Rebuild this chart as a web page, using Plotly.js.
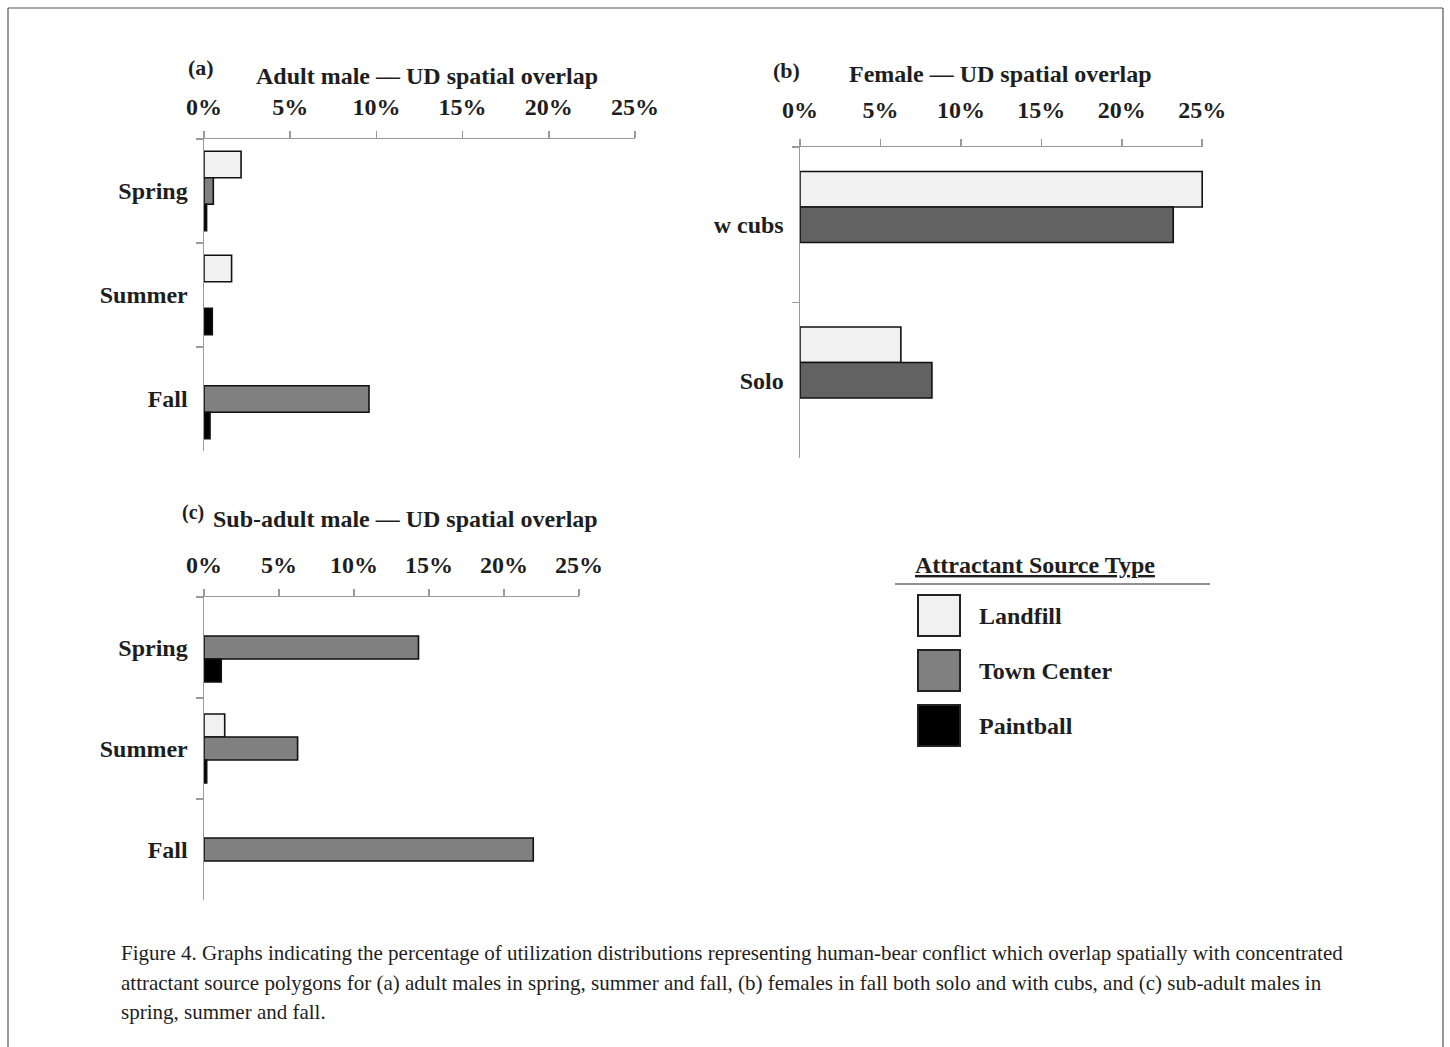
<!DOCTYPE html>
<html>
<head>
<meta charset="utf-8">
<script src="https://cdn.plot.ly/plotly-3.0.1.min.js"></script>
<style>
  html, body { margin: 0; padding: 0; background: #fff; }
  #chart { width: 1450px; height: 1047px; }
</style>
</head>
<body>
<div id="chart"></div>
<script>
// ---------- DATA ----------
const seriesNames = ['Landfill', 'Town Center', 'Paintball'];

// (a) Adult male
const adultCategories = ['Spring', 'Summer', 'Fall'];
const adultLandfill   = [2.15, 1.6, null];
const adultTown       = [0.54, null, 9.57];
const adultPaintball  = [0.15, 0.48, 0.35];

// (b) Female
const femaleCategories = ['w cubs', 'Solo'];
const femaleLandfill   = [25.0, 6.27];
const femaleTown       = [23.2, 8.2];
const femalePaintball  = [null, null];

// (c) Sub-adult male
const subCategories = ['Spring', 'Summer', 'Fall'];
const subLandfill   = [null, 1.38, null];
const subTown       = [14.3, 6.24, 21.95];
const subPaintball  = [1.15, 0.18, null];

const tickValues = [0, 5, 10, 15, 20, 25];
const tickLabels = ['0%', '5%', '10%', '15%', '20%', '25%'];

const captionLines = [
  'Figure 4. Graphs indicating the percentage of utilization distributions representing human-bear conflict which overlap spatially with concentrated',
  'attractant source polygons for (a) adult males in spring, summer and fall, (b) females in fall both solo and with cubs, and (c) sub-adult males in',
  'spring, summer and fall.'
];

// ---------- STYLE ----------
const W = 1450, H = 1047;
const px = v => v / W;
const py = v => 1 - v / H;
const FONT = 'Liberation Serif, Times New Roman, serif';
const TXT = '#1e1e1e';
const AX = '#9a9a9a';
const cLand = '#f1f1f1', cTown = '#808080', cTownDark = '#626262', cPaint = '#000000';

function bars(cats, vals, name, color, xa, ya, width, offset) {
  return {
    type: 'bar', orientation: 'h', name: name,
    y: cats, x: vals, xaxis: xa, yaxis: ya,
    width: width, offset: offset,
    marker: { color: color, line: { color: '#111', width: 1.6 } },
    showlegend: false, hoverinfo: 'x+y+name'
  };
}

const wA = 0.255, oA = [-0.3825, -0.1275, 0.1275];
const wB = 0.228, oB = [-0.342, -0.114, 0.114];

const data = [
  bars(adultCategories, adultLandfill, seriesNames[0], cLand, 'x', 'y', wA, oA[0]),
  bars(adultCategories, adultTown, seriesNames[1], cTown, 'x', 'y', wA, oA[1]),
  bars(adultCategories, adultPaintball, seriesNames[2], cPaint, 'x', 'y', wA, oA[2]),
  bars(femaleCategories, femaleLandfill, seriesNames[0], cLand, 'x2', 'y2', wB, oB[0]),
  bars(femaleCategories, femaleTown, seriesNames[1], cTownDark, 'x2', 'y2', wB, oB[1]),
  bars(femaleCategories, femalePaintball, seriesNames[2], cPaint, 'x2', 'y2', wB, oB[2]),
  bars(subCategories, subLandfill, seriesNames[0], cLand, 'x3', 'y3', wB, oB[0]),
  bars(subCategories, subTown, seriesNames[1], cTown, 'x3', 'y3', wB, oB[1]),
  bars(subCategories, subPaintball, seriesNames[2], cPaint, 'x3', 'y3', wB, oB[2])
];

function xAxis(domain, range, anchor, standoff) {
  return {
    domain: domain, range: range, anchor: anchor, side: 'top',
    tickmode: 'array', tickvals: tickValues, ticktext: tickLabels,
    showgrid: false, zeroline: false, showline: true,
    linecolor: AX, linewidth: 1.5,
    ticks: 'outside', ticklen: 7, tickcolor: AX, tickwidth: 1.5,
    ticklabelstandoff: standoff,
    tickfont: { family: FONT, size: 24, color: TXT, weight: 'bold' },
    fixedrange: true
  };
}
function yAxis(domain, anchor) {
  return {
    domain: domain, anchor: anchor, type: 'category',
    autorange: 'reversed',
    showgrid: false, zeroline: false, showline: true,
    linecolor: AX, linewidth: 1.5,
    ticks: 'outside', ticklen: 7, tickcolor: AX, tickwidth: 1.5,
    tickson: 'boundaries',
    ticklabelstandoff: 10,
    tickfont: { family: FONT, size: 24, color: TXT, weight: 'bold' },
    fixedrange: true
  };
}

const ann = [];
function txt(x, y, text, size, opts) {
  ann.push(Object.assign({
    xref: 'paper', yref: 'paper', x: px(x), y: py(y),
    text: text, showarrow: false, xanchor: 'center', yanchor: 'middle',
    font: { family: FONT, size: size, color: TXT, weight: 'bold' }
  }, opts || {}));
}

// Panel titles
txt(201, 68, '(a)', 22);
txt(427, 76, 'Adult male — UD spatial overlap', 24);
txt(786, 70, '(b)', 22);
txt(1001, 74, 'Female — UD spatial overlap', 24);
txt(193, 512, '(c)', 20);
txt(405, 519, 'Sub-adult male — UD spatial overlap', 24);

// Legend
txt(1035, 565, '<u>Attractant Source Type</u>', 24);
const legendRowsY = [616, 671, 726];
const legendColors = [cLand, cTown, cPaint];
const shapes = [];
seriesNames.forEach((n, i) => {
  const yc = legendRowsY[i];
  shapes.push({
    type: 'rect', xref: 'paper', yref: 'paper',
    x0: px(918), x1: px(960), y0: py(yc - 21), y1: py(yc + 20),
    fillcolor: legendColors[i], line: { color: '#222', width: 2 }
  });
  txt(977, yc, n, 24, { xanchor: 'left' });
});
shapes.push({
  type: 'line', xref: 'paper', yref: 'paper',
  x0: px(895), x1: px(1210), y0: py(584), y1: py(584),
  line: { color: '#222', width: 1.2 }
});

// Frame
shapes.push({ type: 'line', xref: 'paper', yref: 'paper', x0: px(8), x1: px(1443), y0: py(8), y1: py(8), line: { color: '#555', width: 1.2 } });
shapes.push({ type: 'line', xref: 'paper', yref: 'paper', x0: px(8), x1: px(8), y0: py(8), y1: py(1047), line: { color: '#555', width: 1.2 } });
shapes.push({ type: 'line', xref: 'paper', yref: 'paper', x0: px(1443), x1: px(1443), y0: py(8), y1: py(1047), line: { color: '#555', width: 1.2 } });

// Caption
const capY = [953, 983, 1012];
captionLines.forEach((line, i) => {
  ann.push({
    xref: 'paper', yref: 'paper', x: px(119), y: py(capY[i]),
    text: line, showarrow: false, xanchor: 'left', yanchor: 'middle',
    font: { family: FONT, size: 21, color: TXT }
  });
});

const layout = {
  width: W, height: H,
  margin: { l: 0, r: 0, t: 0, b: 0 },
  paper_bgcolor: '#fff', plot_bgcolor: '#fff',
  barmode: 'overlay',
  showlegend: false,
  xaxis:  xAxis([px(204), px(635)], [0, 25], 'y', 6),
  yaxis:  yAxis([py(451), py(139)], 'x'),
  xaxis2: xAxis([px(800), px(1203)], [0, 25.05], 'y2', 11),
  yaxis2: yAxis([py(458), py(147)], 'x2'),
  xaxis3: xAxis([px(204), px(579)], [0, 25], 'y3', 6),
  yaxis3: yAxis([py(900), py(597)], 'x3'),
  annotations: ann,
  shapes: shapes
};

Plotly.newPlot('chart', data, layout, { displayModeBar: false, staticPlot: true });
</script>
</body>
</html>
